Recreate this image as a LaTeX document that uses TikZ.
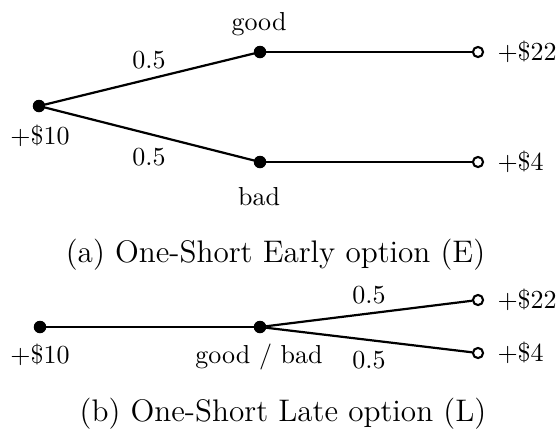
\documentclass[tikz,border=0pt]{standalone}
\begin{document}
\begin{tikzpicture}[x=0.3846pt,y=-0.3846pt,
  dot/.style={circle,fill=black,draw=black,inner sep=0pt,minimum size=4.4pt},
  leaf/.style={circle,fill=white,draw=black,line width=0.8pt,inner sep=0pt,minimum size=3.9pt},
  conn/.style={line width=0.85pt},
  lbl/.style={anchor=base,inner sep=0pt,font=\normalsize},
  val/.style={anchor=west,inner sep=0pt,font=\normalsize},
  captxt/.style={anchor=base,inner sep=0pt,font=\large}]
\useasboundingbox (0,0) rectangle (557,442);
% (a)
\node[dot] (a0) at (39,106) {};
\node[dot] (ag) at (260,52) {};
\node[dot] (ab) at (260,162) {};
\node[leaf] (a22) at (478,52) {};
\node[leaf] (a4) at (478,162) {};
\draw[conn] (a0) -- (ag);
\draw[conn] (a0) -- (ab);
\draw[conn] (ag) -- (a22);
\draw[conn] (ab) -- (a4);
\node[lbl] (agl) at (259,30) {good};
\node[lbl] (abl) at (259,205) {bad};
\node[lbl] (a0l) at (40,144) {$+\$10$};
\node[lbl] (ap1) at (149,68) {0.5};
\node[lbl] (ap2) at (149,165) {0.5};
\node[val] (a22l) at (497,52) {$+\$22$};
\node[val] (a4l) at (497,162) {$+\$4$};
\node[captxt] (capa) at (275.5,262) {(a) One-Short Early option (E)};
% (b)
\node[dot] (b0) at (40,327) {};
\node[dot] (bm) at (260,327) {};
\node[leaf] (b22) at (478,300) {};
\node[leaf] (b4) at (478,353) {};
\draw[conn] (b0) -- (bm);
\draw[conn] (bm) -- (b22);
\draw[conn] (bm) -- (b4);
\node[lbl] (b0l) at (40,363) {$+\$10$};
\node[lbl] (bml) at (259,363) {good / bad};
\node[lbl] (bp1) at (369,303) {0.5};
\node[lbl] (bp2) at (369,368) {0.5};
\node[val] (b22l) at (497,300) {$+\$22$};
\node[val] (b4l) at (497,353) {$+\$4$};
\node[captxt] (capb) at (283,421) {(b) One-Short Late option (L)};
\end{tikzpicture}
\end{document}
